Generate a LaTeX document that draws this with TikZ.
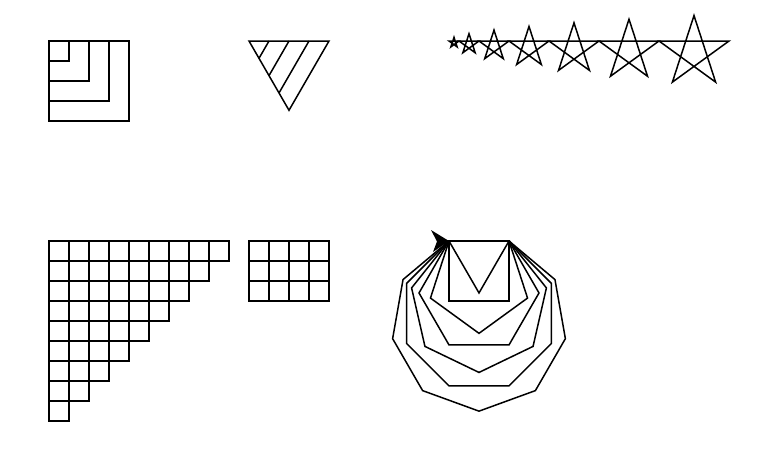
\documentclass[tikz,border=0pt]{standalone}
\begin{document}
\begin{tikzpicture}[x=1pt,y=-1pt,line width=1.5pt,line join=miter,
  lineart/.style={draw=black}]
\useasboundingbox (0,0) rectangle (764,450);
% nested squares
\foreach \s in {20,40,60,80} {
  \draw[lineart] (49,41) rectangle ++(\s,\s);
}
% hatched triangle
\coordinate (tA) at (249,41);
\coordinate (tB) at (329,41);
\coordinate (tC) at (289,110.28);
\draw[lineart] (tA) -- (tB) -- (tC) -- cycle;
\draw[lineart] (269,41) -- (259,58.32);
\draw[lineart] (289,41) -- (269,75.64);
\draw[lineart] (309,41) -- (279,92.96);
% stars
\foreach \k/\x in {1/449,2/459,3/479,4/509,5/549,6/599,7/659} {
  \pgfmathsetmacro{\s}{10*\k}
  \draw[lineart] (\x,41) -- ++(0:\s) -- ++(144:\s) -- ++(288:\s) -- ++(72:\s) -- cycle;
}
% staircase grid
\foreach \r in {0,...,8} {
  \pgfmathtruncatemacro{\m}{8-\r}
  \foreach \c in {0,...,\m} {
    \draw[lineart] ({49+20*\c},{241+20*\r}) rectangle ++(20,20);
  }
}
% 4x3 grid
\foreach \r in {0,1,2} {
  \foreach \c in {0,1,2,3} {
    \draw[lineart] ({249+20*\c},{241+20*\r}) rectangle ++(20,20);
  }
}
% polygons
\coordinate (p0) at (449,241);
\foreach \n in {3,...,9} {
  \pgfmathtruncatemacro{\m}{\n-1}
  \draw[lineart] (p0) \foreach \i in {1,...,\m} { -- ++({(\i-1)*360/\n}:60) } -- cycle;
}
% turtle arrowhead
\fill (p0) -- (431,230) -- (437,241.5) -- (433,252) -- cycle;
\end{tikzpicture}
\end{document}
